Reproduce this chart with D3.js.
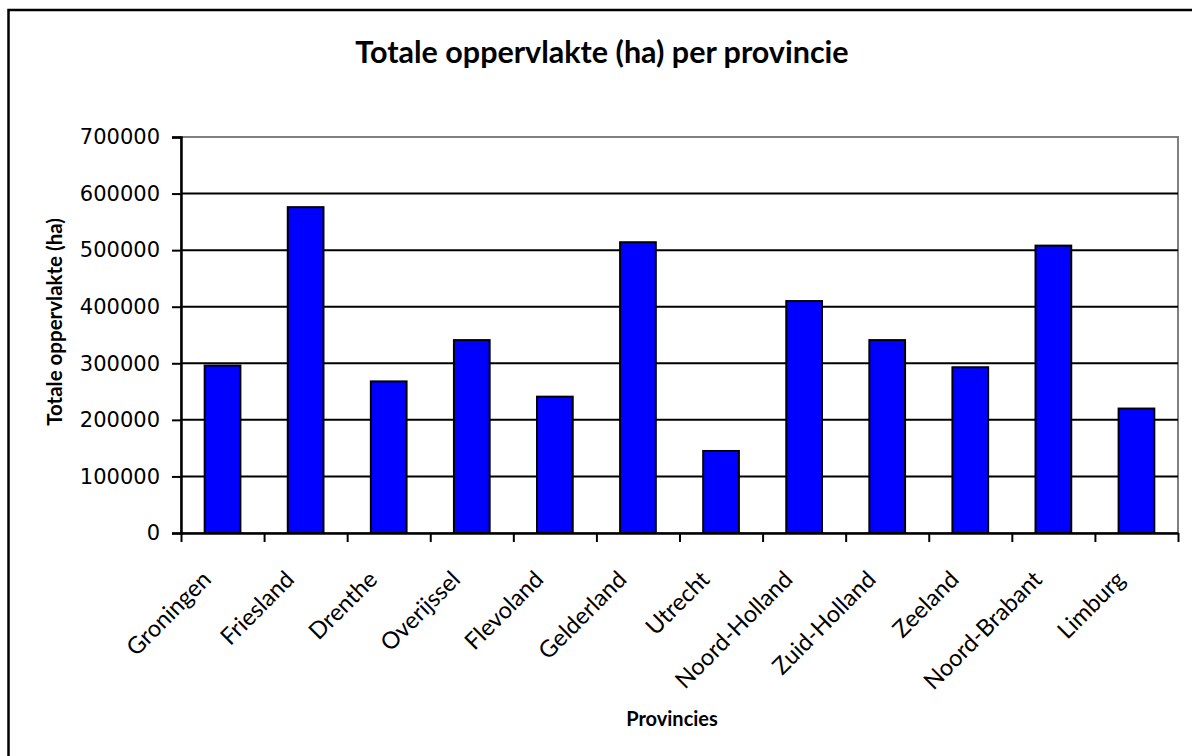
<!DOCTYPE html>
<html>
<head>
<meta charset="utf-8">
<script src="https://cdn.jsdelivr.net/npm/d3@7"></script>
<style>
  body { margin: 0; background: #fff; }
  svg { display: block; }
</style>
</head>
<body>
<svg id="chart" width="1192" height="756"></svg>
<script>
// Provinces and their total area in hectares
const provinces = ["Groningen", "Friesland", "Drenthe", "Overijssel", "Flevoland", "Gelderland",
                   "Utrecht", "Noord-Holland", "Zuid-Holland", "Zeeland", "Noord-Brabant", "Limburg"];
const areaHa = [296000, 576000, 268000, 341000, 241000, 514000,
                145000, 410000, 341000, 293000, 508000, 220000];
const yTickValues = [0, 100000, 200000, 300000, 400000, 500000, 600000, 700000];

const titleText = "Totale oppervlakte (ha) per provincie";
const yTitleText = "Totale oppervlakte (ha)";
const xTitleText = "Provincies";

const svg = d3.select("#chart");

const plot = { left: 181, right: 1178, top: 137, bottom: 533 };

// Outer chart frame (runs off the right and bottom edges)
svg.append("rect")
  .attr("x", 8.5).attr("y", 10)
  .attr("width", 1200).attr("height", 800)
  .attr("fill", "#fff")
  .attr("stroke", "#000").attr("stroke-width", 2.5);

const x = d3.scaleBand()
  .domain(provinces)
  .range([plot.left, plot.right])
  .paddingInner(0.57)
  .paddingOuter(0.285);

const slot = d3.scaleLinear()
  .domain([0, provinces.length])
  .range([plot.left, plot.right]);

const y = d3.scaleLinear()
  .domain([0, 700000])
  .range([plot.bottom, plot.top]);

// Plot area border (grey, top and right)
svg.append("rect")
  .attr("x", plot.left).attr("y", plot.top)
  .attr("width", plot.right - plot.left).attr("height", plot.bottom - plot.top)
  .attr("fill", "none").attr("stroke", "#808080").attr("stroke-width", 2);

// Horizontal gridlines
svg.append("g")
  .selectAll("line")
  .data(yTickValues.filter(v => v > 0 && v < 700000))
  .join("line")
  .attr("x1", plot.left).attr("x2", plot.right)
  .attr("y1", d => y(d)).attr("y2", d => y(d))
  .attr("stroke", "#000").attr("stroke-width", 2);

// Bars
svg.append("g")
  .selectAll("rect")
  .data(provinces.map((p, i) => ({ p, v: areaHa[i] })))
  .join("rect")
  .attr("x", d => x(d.p))
  .attr("y", d => y(d.v))
  .attr("width", x.bandwidth())
  .attr("height", d => y(0) - y(d.v))
  .attr("fill", "#0000FF")
  .attr("stroke", "#000").attr("stroke-width", 2);

// Y axis
const yAxis = svg.append("g")
  .attr("transform", `translate(${plot.left},0)`)
  .call(d3.axisLeft(y).tickValues(yTickValues).tickFormat(d3.format("d")).tickSize(9).tickPadding(12));
yAxis.select(".domain").attr("stroke", "#000").attr("stroke-width", 2.5);
yAxis.selectAll(".tick line").attr("stroke", "#000").attr("stroke-width", 2);
yAxis.selectAll("text")
  .attr("font-family", "'DejaVu Sans', sans-serif")
  .attr("font-size", 21)
  .attr("fill", "#000");

// X axis: tick marks at the category boundaries
const xAxis = svg.append("g")
  .attr("transform", `translate(0,${plot.bottom})`)
  .call(d3.axisBottom(slot).tickValues(d3.range(provinces.length + 1)).tickFormat("").tickSize(9).tickSizeOuter(0));
xAxis.select(".domain").attr("stroke", "#000").attr("stroke-width", 2.5);
xAxis.selectAll(".tick line").attr("stroke", "#000").attr("stroke-width", 2);

// Rotated category labels
svg.append("g")
  .selectAll("text")
  .data(provinces)
  .join("text")
  .attr("transform", d => `translate(${x(d) + x.bandwidth() / 2 - 10},${plot.bottom + 48}) rotate(-45)`)
  .attr("text-anchor", "end")
  .attr("font-family", "Lato, 'Open Sans', sans-serif")
  .attr("font-size", 23.5)
  .attr("fill", "#000")
  .text(d => d);

// Titles
svg.append("text")
  .attr("x", 602).attr("y", 63)
  .attr("text-anchor", "middle")
  .attr("font-family", "Lato, 'Open Sans', sans-serif")
  .attr("font-weight", "bold")
  .attr("font-size", 30.5)
  .attr("fill", "#000")
  .text(titleText);

svg.append("text")
  .attr("transform", `translate(62,322) rotate(-90)`)
  .attr("text-anchor", "middle")
  .attr("font-family", "Lato, 'Open Sans', sans-serif")
  .attr("font-weight", "bold")
  .attr("font-size", 20.5)
  .attr("fill", "#000")
  .text(yTitleText);

svg.append("text")
  .attr("x", 672).attr("y", 726)
  .attr("text-anchor", "middle")
  .attr("font-family", "Lato, 'Open Sans', sans-serif")
  .attr("font-weight", "bold")
  .attr("font-size", 20)
  .attr("fill", "#000")
  .text(xTitleText);
</script>
</body>
</html>
